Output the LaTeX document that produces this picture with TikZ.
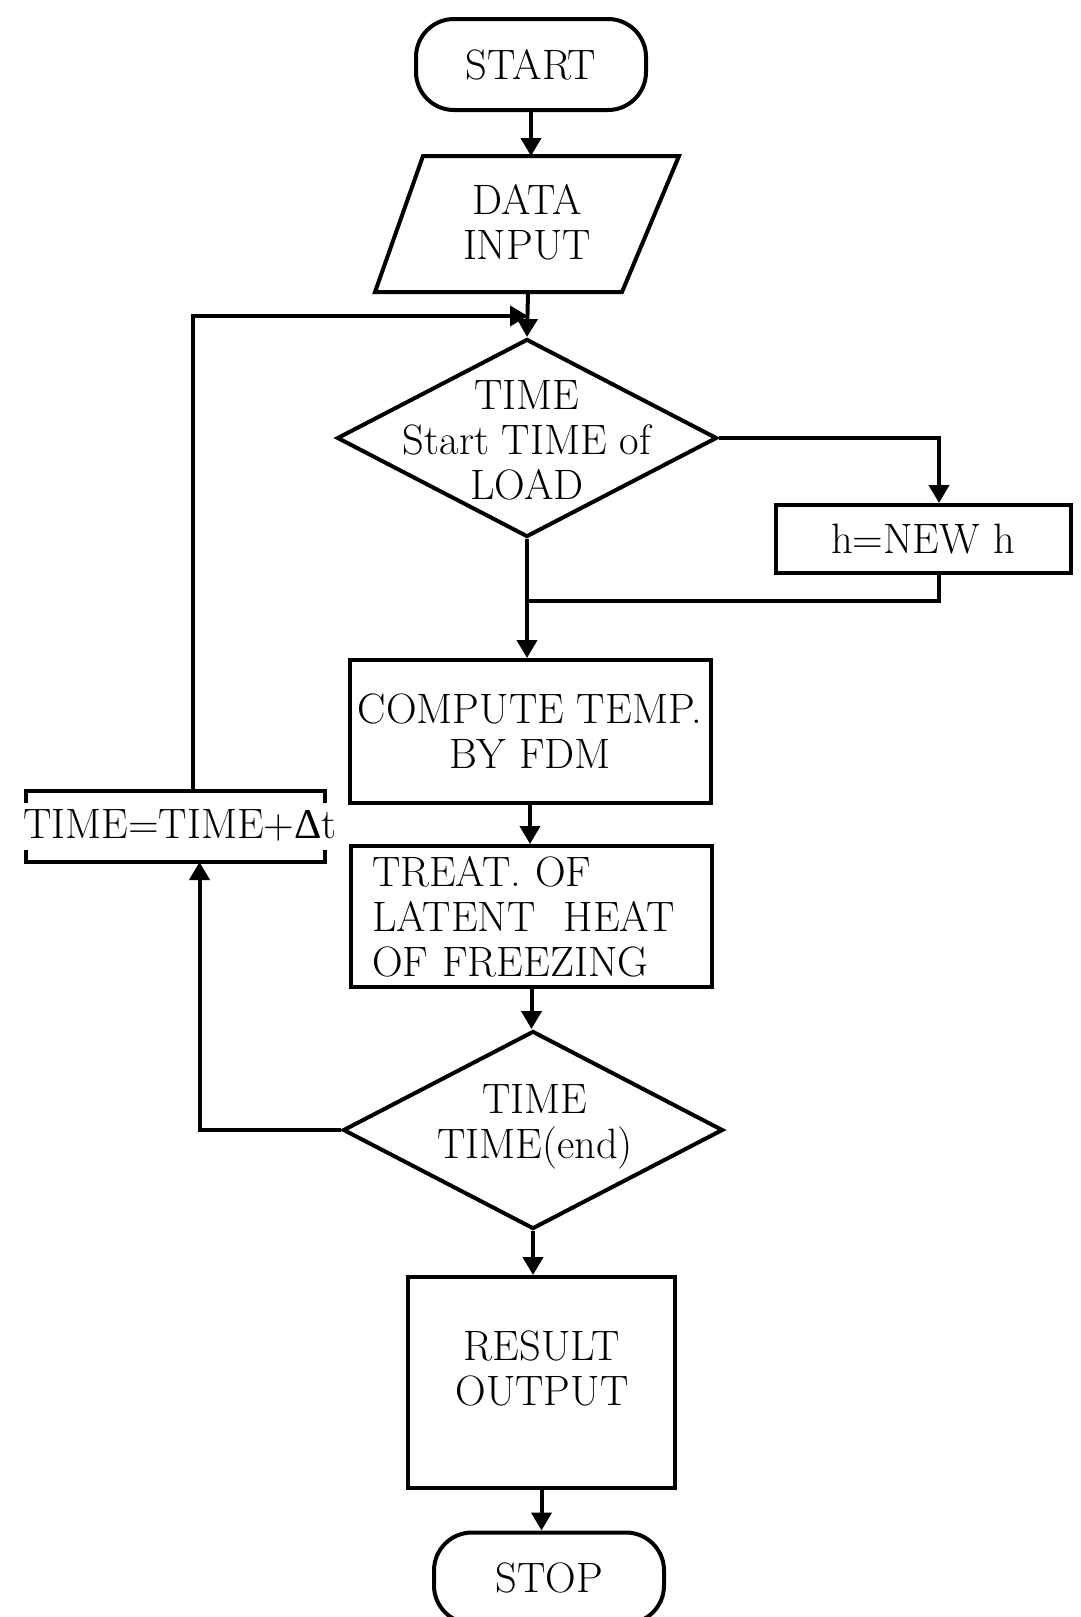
\documentclass[tikz,border=0pt]{standalone}
\usepackage{fontspec}
\newfontfamily\gkfont{Liberation Serif}
\usetikzlibrary{shapes.geometric,arrows.meta,calc}
\begin{document}
\begin{tikzpicture}[x=1pt,y=1pt,line width=4pt,
  every node/.style={font=\fontsize{42.5}{45}\selectfont,inner sep=0pt},
  proc/.style={draw,rectangle},
  term/.style={draw,rectangle,rounded corners=38pt,minimum width=230pt,minimum height=91pt},
  dec/.style={draw,diamond,minimum width=380pt,minimum height=198pt},
  arr/.style={-{Triangle[length=18pt,width=20pt]}}]
\useasboundingbox (0,0) rectangle (1080,-1617);
\clip (0,0) rectangle (1080,-1617);
% nodes
\node[term] (start) at (531,-64.5) {START};
\node[minimum width=248pt,minimum height=132pt] (din) at (525,-224) {};
\node[align=center] (dint) at (527,-222) {DATA\\INPUT};
\draw ([xshift=24pt]din.north west) -- ([xshift=28pt]din.north east)
   -- ([xshift=-29pt]din.south east) -- ([xshift=-24pt]din.south west) -- cycle;
\node[dec] (d1) at (527,-438) {};
\node[align=center] (d1t) at (527,-440) {TIME\\Start TIME of\\LOAD};
\node[proc,minimum width=295pt,minimum height=68pt] (hbox) at (923,-539) {h=NEW h};
\node[proc,minimum width=361pt,minimum height=143pt,align=center] (comp) at (530,-731.5) {COMPUTE TEMP.\\BY FDM};
\node[proc,text width=319pt,inner xsep=21pt,minimum height=141pt,align=left] (treat) at (531.5,-916.5) {TREAT. OF\\LATENT\ \ HEAT\\OF FREEZING};
\node[dec] (d2) at (533,-1130) {};
\node[align=center] (d2t) at (535,-1127) {TIME\\TIME(end)};
\node[proc,minimum width=267pt,minimum height=211pt] (res) at (541.5,-1382.5) {};
\node[align=center] (rest) at (542,-1368) {RESULT\\OUTPUT};
\node[term] (stop) at (549,-1578) {STOP};
\node[minimum width=295pt,minimum height=67pt] (tb) at (175.5,-826.5) {};
\node (tbt) at (180,-825) {TIME=TIME+{\gkfont Δ}t};
\draw ([yshift=-12pt]tb.north west) -- (tb.north west) -- (tb.north east) -- ([yshift=-12pt]tb.north east);
\draw ([yshift=12pt]tb.south west) -- (tb.south west) -- (tb.south east) -- ([yshift=12pt]tb.south east);
% junctions
\coordinate (j1) at (528,-316);
\coordinate (j2) at (528,-601);
% connectors
\draw[arr] (start.south) -- (start.south |- din.north);
\draw[arr] (din.south -| j1) -- (d1.north);
\draw[arr] (d1.east) -| ([xshift=16pt]hbox.north);
\draw ([xshift=16pt]hbox.south) |- (j2);
\draw[arr] (d1.south) -- (d1.south |- comp.north);
\draw[arr] (comp.south) -- (comp.south |- treat.north);
\draw[arr] (treat.south) -- (treat.south |- d2.north);
\draw[arr] (d2.south) -- (d2.south |- res.north);
\draw[arr] (res.south) -- (res.south |- stop.north);
\draw[arr] (d2.west) -| ([xshift=24pt]tb.south);
\draw[arr] ([xshift=17pt]tb.north) |- (j1);
\end{tikzpicture}
\end{document}
